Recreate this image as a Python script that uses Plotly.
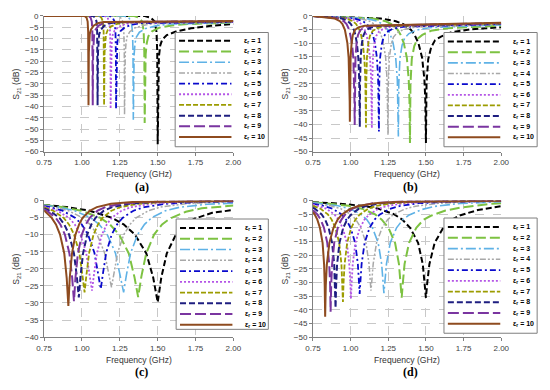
import plotly.graph_objects as go

# ---------------- data ----------------
LABELS = ["ε<sub>r</sub> = %d" % k for k in range(1, 11)]
X_TICKS = [0.75, 1.00, 1.25, 1.50, 1.75, 2.00]
X_TICK_TEXT = ["0.75", "1.00", "1.25", "1.50", "1.75", "2.00"]

# ---- panel (a)
a1_f = [0.75, 1.41, 1.455, 1.48, 1.492, 1.497, 1.50, 1.503, 1.508, 1.517, 1.53, 1.56, 1.62, 1.72, 1.85, 2.0]
a1_s = [0, 0, -0.8, -2.5, -7, -16, -56.7, -35, -18, -13, -10.5, -8.5, -6.9, -5.5, -4.4, -3.6]
a2_f = [0.75, 1.341, 1.377, 1.398, 1.4075, 1.4116, 1.414, 1.4164, 1.4205, 1.4278, 1.4384, 1.4628, 1.5116, 1.593, 1.699, 2.0]
a2_s = [0, 0, -0.8, -2.5, -7, -16, -47.3, -32, -17, -12, -9, -6.8, -5.2, -4.2, -3.6, -3.0]
a3_f = [0.75, 1.2785, 1.3088, 1.3256, 1.3336, 1.337, 1.339, 1.341, 1.3444, 1.3504, 1.3592, 1.3793, 1.4196, 1.487, 1.574, 2.0]
a3_s = [0, 0, -0.8, -2.5, -7, -16, -45.9, -32, -17, -12, -9.3, -7.2, -5.6, -4.4, -3.6, -2.9]
a4_f = [0.75, 1.2292, 1.2551, 1.2695, 1.2764, 1.2793, 1.281, 1.2827, 1.2856, 1.2908, 1.2983, 1.3156, 1.3501, 1.408, 1.483, 2.0]
a4_s = [0, 0, -0.8, -2.5, -7, -16, -43.7, -31, -17, -12, -9, -7, -5.3, -4.1, -3.4, -2.8]
a5_f = [0.75, 1.1807, 1.2029, 1.2152, 1.2211, 1.2235, 1.225, 1.2265, 1.2289, 1.2334, 1.2398, 1.2545, 1.284, 1.333, 1.397, 2.0]
a5_s = [0, 0, -0.8, -2.5, -7, -16, -41, -31, -16.8, -11.8, -8.8, -6.7, -5.0, -3.8, -3.2, -2.7]
a6_f = [0.75, 1.1491, 1.1691, 1.1801, 1.1855, 1.1877, 1.189, 1.1903, 1.1925, 1.1965, 1.2023, 1.2156, 1.2422, 1.2865, 1.344, 2.0]
a6_s = [0, 0, -0.8, -2.5, -7, -16, -41, -31, -16.6, -11.6, -8.6, -6.5, -4.8, -3.6, -3.0, -2.6]
a7_f = [0.75, 1.1109, 1.1284, 1.1382, 1.1429, 1.1448, 1.146, 1.1472, 1.1491, 1.1526, 1.1577, 1.1694, 1.1928, 1.2318, 1.2825, 2.0]
a7_s = [0, 0, -0.8, -2.5, -7, -16, -39.5, -30.5, -16.4, -11.4, -8.4, -6.3, -4.6, -3.5, -2.9, -2.5]
a8_f = [0.75, 1.0723, 1.0877, 1.0962, 1.1003, 1.102, 1.103, 1.104, 1.1057, 1.1088, 1.1132, 1.1235, 1.1439, 1.178, 1.222, 2.0]
a8_s = [0, 0, -0.8, -2.5, -7, -16, -39.5, -30.3, -16.2, -11.2, -8.2, -6.2, -4.5, -3.4, -2.8, -2.4]
a9_f = [0.75, 1.0433, 1.0571, 1.0648, 1.0685, 1.0701, 1.071, 1.0719, 1.0735, 1.0762, 1.0802, 1.0895, 1.108, 1.1388, 1.179, 2.0]
a9_s = [0, 0, -0.8, -2.5, -7, -16, -39.5, -30.1, -16.1, -11.1, -8.1, -6.1, -4.4, -3.3, -2.75, -2.3]
a10_f = [0.75, 1.0178, 1.0304, 1.0374, 1.0408, 1.0422, 1.043, 1.0438, 1.0452, 1.0478, 1.0514, 1.0598, 1.0766, 1.1046, 1.141, 2.0]
a10_s = [0, 0, -0.8, -2.5, -7, -16, -39.5, -30, -16, -11, -8, -6, -4.3, -3.2, -2.7, -2.2]

# ---- panel (b)
b1_f = [0.75, 1.20, 1.30, 1.35, 1.40, 1.425, 1.45, 1.475, 1.49, 1.496, 1.50, 1.504, 1.515, 1.535, 1.56, 1.60, 1.67, 1.80, 2.0]
b1_s = [0, -0.97, -1.95, -3.0, -5.1, -7.0, -10.0, -15.5, -23.5, -31.3, -46.8, -25, -16, -11.5, -9, -7.6, -6, -4.9, -4.2]
b2_f = [0.75, 1.148, 1.23, 1.271, 1.312, 1.3325, 1.353, 1.3735, 1.3858, 1.3907, 1.394, 1.3973, 1.4063, 1.4227, 1.4432, 1.476, 1.5334, 1.64, 2.0]
b2_s = [0, -0.97, -1.95, -3.0, -5.1, -7.0, -10.0, -15.5, -23.5, -31.3, -46.8, -25, -15.7, -11.1, -8.5, -7.0, -5.5, -4.55, -3.6]
b3_f = [0.75, 1.1058, 1.1762, 1.2114, 1.2466, 1.2642, 1.2818, 1.2994, 1.31, 1.3142, 1.317, 1.3198, 1.3276, 1.3416, 1.3592, 1.3874, 1.4367, 1.5282, 2.0]
b3_s = [0, -0.97, -1.95, -3.0, -5.1, -7.0, -10.0, -15.5, -23.5, -31.3, -44.4, -25, -15.6, -10.8, -8.1, -6.5, -5.2, -4.3, -3.3]
b4_f = [0.75, 1.065, 1.126, 1.1565, 1.187, 1.2023, 1.2175, 1.2328, 1.2419, 1.2456, 1.248, 1.2504, 1.2571, 1.2693, 1.2845, 1.3089, 1.3515, 1.4307, 2.0]
b4_s = [0, -0.97, -1.95, -3.0, -5.1, -7.0, -10.0, -15.5, -23.5, -31.3, -43.8, -25, -15.4, -10.6, -7.8, -6.2, -4.95, -4.14, -3.1]
b5_f = [0.75, 1.0278, 1.0812, 1.1079, 1.1346, 1.148, 1.1613, 1.1747, 1.1827, 1.1859, 1.188, 1.1901, 1.196, 1.2067, 1.22, 1.2413, 1.2786, 1.348, 2.0]
b5_s = [0, -0.97, -1.95, -3.0, -5.1, -7.0, -10.0, -15.5, -23.5, -31.3, -42.6, -25, -15.3, -10.5, -7.6, -5.9, -4.75, -4.0, -3.0]
b6_f = [0.75, 0.9976, 1.0454, 1.0693, 1.0932, 1.1052, 1.1171, 1.1291, 1.1362, 1.1391, 1.141, 1.1429, 1.1482, 1.1577, 1.1697, 1.1888, 1.2223, 1.2844, 2.0]
b6_s = [0, -0.97, -1.95, -3.0, -5.1, -7.0, -10.0, -15.5, -23.5, -31.3, -41.4, -25, -15.2, -10.3, -7.4, -5.7, -4.6, -3.9, -2.9]
b7_f = [0.75, 0.9712, 1.0148, 1.0366, 1.0584, 1.0693, 1.0802, 1.0911, 1.0976, 1.1003, 1.102, 1.1037, 1.1085, 1.1172, 1.1281, 1.1455, 1.176, 1.2325, 2.0]
b7_s = [0, -0.97, -1.95, -3.0, -5.1, -7.0, -10.0, -15.5, -23.5, -31.3, -41.1, -25, -15.2, -10.2, -7.3, -5.6, -4.5, -3.8, -2.8]
b8_f = [0.75, 0.9428, 0.9822, 1.0019, 1.0216, 1.0315, 1.0413, 1.0512, 1.0571, 1.0594, 1.061, 1.0626, 1.0669, 1.0748, 1.0846, 1.1003, 1.1278, 1.1789, 2.0]
b8_s = [0, -0.97, -1.95, -3.0, -5.1, -7.0, -10.0, -15.5, -23.5, -31.3, -40.9, -25, -15.1, -10.1, -7.2, -5.4, -4.4, -3.7, -2.7]
b9_f = [0.75, 0.919, 0.955, 0.973, 0.991, 1.0, 1.009, 1.018, 1.0234, 1.0256, 1.027, 1.0284, 1.0324, 1.0396, 1.0486, 1.063, 1.0882, 1.135, 2.0]
b9_s = [0, -0.97, -1.95, -3.0, -5.1, -7.0, -10.0, -15.5, -23.5, -31.3, -40.2, -25, -15.0, -10.1, -7.1, -5.3, -4.3, -3.66, -2.6]
b10_f = [0.75, 0.896, 0.929, 0.9455, 0.962, 0.9703, 0.9785, 0.9868, 0.9917, 0.9937, 0.995, 0.9963, 1.0, 1.0066, 1.0148, 1.028, 1.0511, 1.094, 2.0]
b10_s = [0, -0.97, -1.95, -3.0, -5.1, -7.0, -10.0, -15.5, -23.5, -31.3, -39.0, -25, -15.0, -10.0, -7.0, -5.2, -4.2, -3.6, -2.5]

# ---- panel (c)
c1_f = [0.75, 0.90, 1.05, 1.20, 1.275, 1.35, 1.425, 1.47, 1.50, 1.524, 1.56, 1.62, 1.68, 1.74, 1.86, 2.0]
c1_s = [-1.3, -1.95, -3.0, -5.1, -7.0, -10.0, -15.5, -22.5, -29.8, -22.5, -15.5, -10.0, -7.0, -5.4, -3.6, -2.8]
c2_f = [0.75, 0.871, 0.996, 1.121, 1.184, 1.246, 1.309, 1.346, 1.371, 1.392, 1.424, 1.476, 1.529, 1.581, 1.686, 1.791, 2.0]
c2_s = [-1.35, -1.95, -3.0, -5.1, -7.0, -10.0, -15.5, -22.3, -28.3, -22.3, -15.5, -10.0, -7.0, -5.3, -3.3, -2.3, -1.5]
c3_f = [0.75, 0.843, 0.951, 1.059, 1.113, 1.167, 1.221, 1.253, 1.275, 1.293, 1.321, 1.367, 1.413, 1.459, 1.551, 1.643, 1.827, 2.0]
c3_s = [-1.4, -1.95, -3.0, -5.1, -7.0, -10.0, -15.4, -21.9, -26.9, -21.9, -15.4, -10.0, -7.0, -5.1, -3.0, -2.0, -1.1, -0.8]
c4_f = [0.75, 0.815, 0.91, 1.005, 1.053, 1.10, 1.148, 1.176, 1.195, 1.211, 1.236, 1.276, 1.317, 1.357, 1.438, 1.519, 1.681, 1.924, 2.0]
c4_s = [-1.45, -1.95, -3.0, -5.1, -7.0, -10.0, -15.2, -21.4, -25.4, -21.4, -15.2, -10.0, -7.0, -5.1, -3.0, -1.95, -0.97, -0.45, -0.4]
c5_f = [0.75, 0.788, 0.872, 0.956, 0.998, 1.04, 1.082, 1.107, 1.124, 1.138, 1.16, 1.196, 1.232, 1.268, 1.34, 1.412, 1.556, 1.772, 2.0]
c5_s = [-1.63, -1.95, -3.0, -5.1, -7.0, -10.0, -15.3, -21.5, -25.9, -21.5, -15.3, -10.0, -7.0, -5.1, -3.0, -1.95, -0.97, -0.45, -0.3]
c6_f = [0.75, 0.762, 0.838, 0.914, 0.952, 0.99, 1.028, 1.051, 1.066, 1.079, 1.099, 1.131, 1.164, 1.196, 1.261, 1.326, 1.456, 1.651, 2.0]
c6_s = [-1.82, -1.95, -3.0, -5.1, -7.0, -10.0, -15.4, -21.7, -26.4, -21.7, -15.4, -10.0, -7.0, -5.1, -3.0, -1.95, -0.97, -0.45, -0.25]
c7_f = [0.75, 0.81, 0.879, 0.914, 0.948, 0.983, 1.003, 1.017, 1.029, 1.047, 1.076, 1.106, 1.135, 1.194, 1.253, 1.371, 1.548, 2.0]
c7_s = [-2.04, -3.0, -5.1, -7.0, -10.0, -15.4, -21.9, -26.9, -21.9, -15.4, -10.0, -7.0, -5.1, -3.0, -1.95, -0.97, -0.45, -0.2]
c8_f = [0.75, 0.787, 0.851, 0.883, 0.915, 0.947, 0.966, 0.979, 0.99, 1.007, 1.034, 1.062, 1.089, 1.144, 1.199, 1.309, 1.474, 2.0]
c8_s = [-2.31, -3.0, -5.1, -7.0, -10.0, -15.5, -22.3, -28.4, -22.3, -15.5, -10.0, -7.0, -5.1, -3.0, -1.95, -0.97, -0.45, -0.15]
c9_f = [0.75, 0.767, 0.827, 0.857, 0.887, 0.917, 0.935, 0.947, 0.957, 0.973, 0.999, 1.025, 1.051, 1.103, 1.155, 1.259, 1.415, 2.0]
c9_s = [-2.64, -3.0, -5.1, -7.0, -10.0, -15.5, -22.5, -29.5, -22.5, -15.5, -10.0, -7.0, -5.1, -3.0, -1.95, -0.97, -0.45, -0.1]
c10_f = [0.75, 0.80, 0.828, 0.855, 0.883, 0.899, 0.91, 0.919, 0.934, 0.957, 0.981, 1.004, 1.051, 1.098, 1.192, 1.333, 2.0]
c10_s = [-2.9, -5.1, -7.0, -10.0, -15.5, -22.7, -30.9, -22.7, -15.5, -10.0, -7.0, -5.1, -3.0, -1.95, -0.97, -0.45, -0.1]

# ---- panel (d)
d1_f = [0.75, 0.87, 1.08, 1.185, 1.29, 1.343, 1.395, 1.448, 1.479, 1.492, 1.50, 1.509, 1.523, 1.558, 1.615, 1.673, 1.73, 1.845, 1.96, 2.0]
d1_s = [-0.7, -0.97, -1.95, -3.0, -5.1, -7.0, -10.0, -15.5, -23.3, -30.0, -35.6, -30.0, -23.3, -15.5, -10.0, -7.0, -5.4, -3.5, -2.4, -2.1]
d2_f = [0.75, 0.811, 0.987, 1.075, 1.163, 1.207, 1.251, 1.295, 1.321, 1.332, 1.339, 1.347, 1.358, 1.388, 1.436, 1.485, 1.533, 1.63, 1.727, 1.921, 2.0]
d2_s = [-0.79, -0.97, -1.95, -3.0, -5.1, -7.0, -10.0, -15.5, -23.3, -30.0, -35.6, -30.0, -23.3, -15.5, -10.0, -7.0, -5.6, -3.7, -2.6, -1.3, -1.0]
d3_f = [0.75, 0.765, 0.917, 0.993, 1.069, 1.107, 1.145, 1.183, 1.206, 1.215, 1.221, 1.228, 1.238, 1.263, 1.305, 1.347, 1.389, 1.473, 1.557, 1.725, 1.977, 2.0]
d3_s = [-0.92, -0.97, -1.95, -3.0, -5.1, -7.0, -10.0, -15.5, -23.2, -29.5, -33.9, -29.5, -23.2, -15.5, -10.0, -7.0, -5.3, -3.3, -2.2, -1.1, -0.5, -0.5]
d4_f = [0.75, 0.867, 0.934, 1.001, 1.035, 1.068, 1.102, 1.122, 1.13, 1.135, 1.141, 1.15, 1.172, 1.209, 1.246, 1.283, 1.357, 1.431, 1.579, 1.801, 2.0]
d4_s = [-1.05, -1.95, -3.0, -5.1, -7.0, -10.0, -15.5, -23.1, -29.2, -33.0, -29.2, -23.1, -15.5, -10.0, -7.0, -5.2, -3.2, -2.1, -1.05, -0.5, -0.35]
d5_f = [0.75, 0.82, 0.88, 0.94, 0.97, 1.0, 1.03, 1.048, 1.055, 1.06, 1.065, 1.073, 1.093, 1.126, 1.159, 1.192, 1.258, 1.324, 1.456, 1.654, 2.0]
d5_s = [-1.26, -1.95, -3.0, -5.1, -7.0, -10.0, -15.5, -23.2, -29.6, -34.2, -29.6, -23.2, -15.5, -10.0, -7.0, -5.2, -3.1, -2.05, -1.0, -0.47, -0.25]
d6_f = [0.75, 0.782, 0.837, 0.892, 0.92, 0.947, 0.975, 0.991, 0.998, 1.002, 1.007, 1.014, 1.032, 1.062, 1.092, 1.122, 1.182, 1.242, 1.362, 1.542, 2.0]
d6_s = [-1.55, -1.95, -3.0, -5.1, -7.0, -10.0, -15.5, -23.3, -30.0, -36.0, -30.0, -23.3, -15.5, -10.0, -7.0, -5.2, -3.1, -2.0, -1.0, -0.45, -0.2]
d7_f = [0.75, 0.799, 0.849, 0.874, 0.899, 0.924, 0.939, 0.945, 0.949, 0.953, 0.96, 0.977, 1.004, 1.032, 1.059, 1.114, 1.169, 1.279, 1.444, 2.0]
d7_s = [-1.97, -3.0, -5.1, -7.0, -10.0, -15.5, -23.3, -30.2, -37.1, -30.2, -23.3, -15.5, -10.0, -7.0, -5.2, -3.1, -2.0, -1.0, -0.45, -0.15]
d8_f = [0.75, 0.762, 0.808, 0.831, 0.854, 0.877, 0.891, 0.896, 0.90, 0.904, 0.91, 0.926, 0.951, 0.977, 1.002, 1.053, 1.104, 1.206, 1.359, 2.0]
d8_s = [-2.67, -3.0, -5.1, -7.0, -10.0, -15.5, -23.4, -30.6, -39.3, -30.6, -23.4, -15.5, -10.0, -7.0, -5.2, -3.1, -2.0, -1.0, -0.45, -0.1]
d9_f = [0.75, 0.779, 0.801, 0.823, 0.845, 0.858, 0.864, 0.867, 0.871, 0.877, 0.891, 0.915, 0.939, 0.963, 1.011, 1.059, 1.155, 1.299, 2.0]
d9_s = [-3.57, -5.1, -7.0, -10.0, -15.5, -23.4, -30.9, -40.7, -30.9, -23.4, -15.5, -10.0, -7.0, -5.2, -3.1, -2.0, -1.0, -0.45, -0.1]
d10_f = [0.75, 0.761, 0.779, 0.796, 0.814, 0.824, 0.828, 0.831, 0.835, 0.842, 0.859, 0.886, 0.914, 0.941, 0.996, 1.051, 1.161, 1.326, 2.0]
d10_s = [-4.3, -5.1, -7.0, -10.0, -15.5, -23.5, -31.1, -42.5, -31.1, -23.5, -15.5, -10.0, -7.0, -5.2, -3.1, -2.0, -1.0, -0.45, -0.1]

PANEL_A = [(a1_f, a1_s), (a2_f, a2_s), (a3_f, a3_s), (a4_f, a4_s), (a5_f, a5_s),
           (a6_f, a6_s), (a7_f, a7_s), (a8_f, a8_s), (a9_f, a9_s), (a10_f, a10_s)]
PANEL_B = [(b1_f, b1_s), (b2_f, b2_s), (b3_f, b3_s), (b4_f, b4_s), (b5_f, b5_s),
           (b6_f, b6_s), (b7_f, b7_s), (b8_f, b8_s), (b9_f, b9_s), (b10_f, b10_s)]
PANEL_C = [(c1_f, c1_s), (c2_f, c2_s), (c3_f, c3_s), (c4_f, c4_s), (c5_f, c5_s),
           (c6_f, c6_s), (c7_f, c7_s), (c8_f, c8_s), (c9_f, c9_s), (c10_f, c10_s)]
PANEL_D = [(d1_f, d1_s), (d2_f, d2_s), (d3_f, d3_s), (d4_f, d4_s), (d5_f, d5_s),
           (d6_f, d6_s), (d7_f, d7_s), (d8_f, d8_s), (d9_f, d9_s), (d10_f, d10_s)]
Y_MINS = [-60, -50, -40, -50]
PANEL_TAGS = ["(a)", "(b)", "(c)", "(d)"]

# ---------------- styles ----------------
COLORS = ["#000000", "#7DC242", "#5FB2E6", "#A8A8A8", "#0A0ACC",
          "#B455E6", "#9C9C00", "#1E1E80", "#7A35A0", "#8E4B1F"]
DASHES = ["6px,3px", "10px,4px", "10px,3px,2px,3px", "6px,2px,2px,2px,2px,2px",
          "6px,3px,2px,3px", "2px,2px", "5px,2px", "6px,3px", "11px,4px", "solid"]
WIDTHS = [2, 2, 1.6, 1.5, 1.8, 1.8, 1.8, 2, 2, 2]

# the page body has an 8 px margin, so the figure is sized to the remaining area
OFF = 8
W, H = 550 - OFF, 390 - OFF
def PX(x):
    return (x - OFF) / W
def PY(y):
    return 1 - (y - OFF) / H

# plot areas in window pixels: (left, right, top, bottom)
AREAS = [(37, 232, 12, 151), (314, 508, 12, 151), (37, 232, 201, 341), (314, 508, 201, 341)]
# legend boxes in window pixels: (left, right, top, bottom, first row y, row step)
LEGS = [(172, 268, 29, 146, 37.5, 10.95), (449, 545, 29, 146, 38.3, 10.9),
        (173, 268, 220, 333, 229.3, 11.0), (449, 545, 219, 337, 228.3, 11.0)]

FONT = "Arial, Liberation Sans, sans-serif"
fig = go.Figure()
panels = [PANEL_A, PANEL_B, PANEL_C, PANEL_D]
shapes = []
annotations = []
layout = {}
for p, panel in enumerate(panels):
    sfx = "" if p == 0 else str(p + 1)
    xa, ya = "x" + sfx, "y" + sfx
    for k, (f, s) in enumerate(panel):
        fig.add_trace(go.Scatter(x=f, y=s, mode="lines", xaxis=xa, yaxis=ya,
                                 name=LABELS[k], showlegend=False,
                                 line=dict(color=COLORS[k], width=WIDTHS[k], dash=DASHES[k])))
    l, r, t, b = AREAS[p]
    common = dict(showline=True, linecolor="#808080", linewidth=1, ticks="outside",
                  ticklen=3, tickcolor="#808080", showgrid=True, gridcolor="#C8C8C8",
                  griddash="dash", gridwidth=1, zeroline=False,
                  tickfont=dict(family=FONT, size=8, color="#404040"))
    layout["xaxis" + sfx] = dict(domain=[PX(l), PX(r)], anchor=ya, range=[0.75, 2.0],
                                 tickvals=X_TICKS, ticktext=X_TICK_TEXT, **common)
    layout["yaxis" + sfx] = dict(domain=[PY(b), PY(t)], anchor=xa, range=[Y_MINS[p], 0],
                                 dtick=5, tick0=0, **common)
    # axis titles
    cx = (l + r) / 2
    annotations.append(dict(x=PX(cx), y=PY(b + 23), xref="paper", yref="paper",
                            xanchor="center", yanchor="middle",
                            text="Frequency (GHz)", showarrow=False,
                            font=dict(family=FONT, size=8.6, color="#333333")))
    annotations.append(dict(x=PX(l - 28), y=PY((t + b) / 2), xref="paper", yref="paper",
                            xanchor="center", yanchor="middle",
                            text="S<sub>21</sub> (dB)", showarrow=False, textangle=-90,
                            font=dict(family=FONT, size=8.6, color="#333333")))
    annotations.append(dict(x=PX(cx + 3), y=PY(b + 36), xref="paper", yref="paper",
                            xanchor="center", yanchor="middle",
                            text="<b>" + PANEL_TAGS[p] + "</b>", showarrow=False,
                            font=dict(family="Liberation Serif, Times New Roman, serif",
                                      size=12, color="#000000")))
    # legend box
    gl, gr, gt, gb, r0, st = LEGS[p]
    shapes.append(dict(type="rect", xref="paper", yref="paper", x0=PX(gl), x1=PX(gr),
                       y0=PY(gb), y1=PY(gt), fillcolor="white",
                       line=dict(color="#7F7F7F", width=1), layer="above"))
    for k in range(10):
        yy = r0 + k * st
        shapes.append(dict(type="line", xref="paper", yref="paper", x0=PX(gl + 4),
                           x1=PX(gl + 58), y0=PY(yy), y1=PY(yy), layer="above",
                           line=dict(color=COLORS[k], width=WIDTHS[k], dash=DASHES[k])))
        annotations.append(dict(x=PX(gl + 69), y=PY(yy), xref="paper", yref="paper",
                                xanchor="left", yanchor="middle",
                                text="<b>" + LABELS[k] + "</b>",
                                showarrow=False,
                                font=dict(family=FONT, size=7, color="#000000")))

fig.update_layout(width=W, height=H, margin=dict(l=0, r=0, t=0, b=0),
                  paper_bgcolor="white", plot_bgcolor="white", showlegend=False,
                  shapes=shapes, annotations=annotations, **layout)
fig.write_html("out.html")
